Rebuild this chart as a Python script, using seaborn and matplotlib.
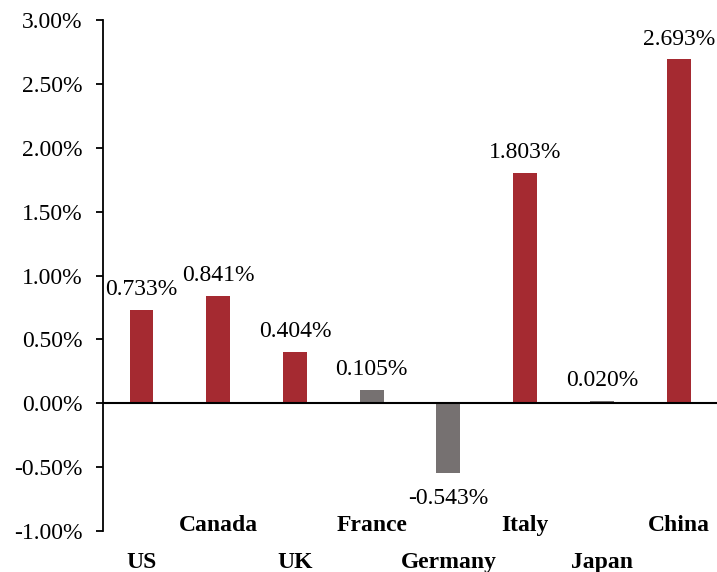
import matplotlib
matplotlib.use("Agg")
import matplotlib.pyplot as plt
import seaborn as sns
import pandas as pd
from matplotlib.ticker import FuncFormatter

countries = ["US", "Canada", "UK", "France", "Germany", "Italy", "Japan", "China"]
values = [0.733, 0.841, 0.404, 0.105, -0.543, 1.803, 0.020, 2.693]
groups = ["red", "red", "red", "gray", "gray", "red", "gray", "red"]
yticks = [-1.0, -0.5, 0.0, 0.5, 1.0, 1.5, 2.0, 2.5, 3.0]

sns.set_theme(style="white")
plt.rcParams["font.family"] = ["Liberation Serif", "DejaVu Serif"]

df = pd.DataFrame({"country": countries, "value": values, "group": groups})
palette = {"red": "#A52A31", "gray": "#767171"}

fig = plt.figure(figsize=(7.17, 5.72), dpi=100)
ax = fig.add_axes([0.1437, 0.0717, 0.8563, 0.8933])
ax.axhline(0, color="black", lw=1.5, zorder=2)
sns.barplot(data=df, x="country", y="value", hue="group", palette=palette,
            dodge=False, width=0.31, legend=False, ax=ax, order=countries,
            saturation=1, linewidth=0, edgecolor="none", zorder=1)

ax.set_xlim(-0.5, 7.5)
ax.set_ylim(-1.0, 3.0)
ax.set_yticks(yticks)
ax.yaxis.set_major_formatter(FuncFormatter(lambda v, p: f"{v:.2f}%"))
ax.tick_params(axis="y", labelsize=17, length=5, width=1.3, direction="out",
               color="black", left=True, pad=10)
for lab in ax.get_yticklabels():
    lab.set_color("black")
ax.set_xticks([])
ax.set_xlabel("")
ax.set_ylabel("")
for s in ["top", "right", "bottom"]:
    ax.spines[s].set_visible(False)
ax.spines["left"].set_color("black")
ax.spines["left"].set_linewidth(1.3)

tr = ax.get_xaxis_transform()
for i, (c, v) in enumerate(zip(countries, values)):
    if v >= 0:
        ax.annotate(f"{v:.3f}%", (i, v), xytext=(0, 7), textcoords="offset points",
                    ha="center", va="bottom", fontsize=17, color="black")
    else:
        ax.annotate(f"{v:.3f}%", (i, v), xytext=(0, -11), textcoords="offset points",
                    ha="center", va="top", fontsize=17, color="black")
    ypos = 0.010 if i % 2 == 1 else -0.061
    ax.text(i, ypos, c, transform=tr, ha="center", va="center",
            fontsize=17, fontweight="bold", color="black", clip_on=False)

fig.savefig("out.png", dpi=100)
